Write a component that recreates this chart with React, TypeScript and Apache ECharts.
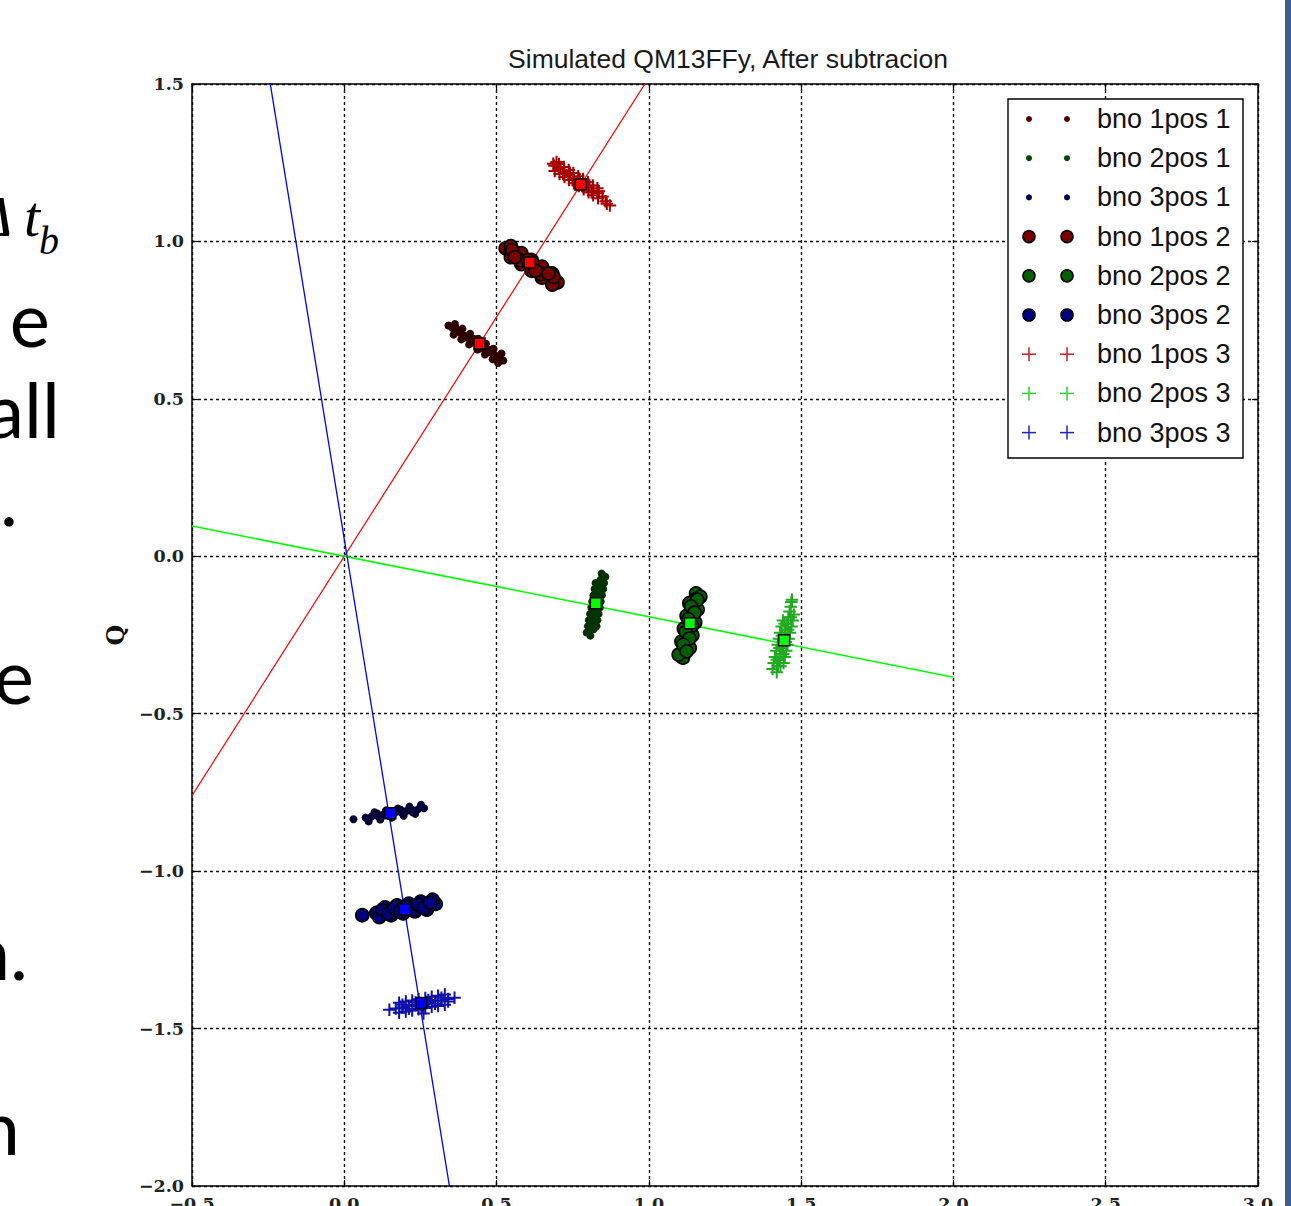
import React, { useEffect, useRef } from "react";
import * as echarts from "echarts";

// ---- axes ----
const TITLE = "Simulated QM13FFy, After subtracion";
const Y_NAME = "Q";
const X_MIN = -0.5;
const X_MAX = 3.0;
const Y_MIN = -2.0;
const Y_MAX = 1.5;
const STEP = 0.5;

// ---- legend labels ----
const legendNames = [
  "bno 1pos 1",
  "bno 2pos 1",
  "bno 3pos 1",
  "bno 1pos 2",
  "bno 2pos 2",
  "bno 3pos 2",
  "bno 1pos 3",
  "bno 2pos 3",
  "bno 3pos 3",
];

// ---- cluster points (x, Q) ----
const bno1pos1 = [
  [0.342, 0.733], [0.355, 0.725], [0.367, 0.717], [0.38, 0.71], [0.392, 0.702],
  [0.405, 0.694], [0.418, 0.686], [0.432, 0.678], [0.445, 0.67], [0.457, 0.662],
  [0.47, 0.654], [0.482, 0.646], [0.495, 0.639], [0.508, 0.631], [0.522, 0.622],
  [0.363, 0.738], [0.388, 0.723], [0.413, 0.707], [0.44, 0.691], [0.465, 0.675],
  [0.49, 0.659], [0.516, 0.644],
  [0.359, 0.704], [0.384, 0.689], [0.41, 0.673], [0.437, 0.657], [0.462, 0.641],
  [0.487, 0.626], [0.505, 0.614],
  [0.364, 0.729], [0.392, 0.693], [0.427, 0.69], [0.446, 0.66], [0.481, 0.656],
  [0.5, 0.627],
];
const bno2pos1 = [
  [0.845, -0.055], [0.841, -0.075], [0.838, -0.094], [0.834, -0.114], [0.83, -0.134],
  [0.827, -0.154], [0.823, -0.173], [0.819, -0.193], [0.815, -0.213], [0.812, -0.232],
  [0.808, -0.252],
  [0.857, -0.065], [0.853, -0.085], [0.85, -0.104], [0.846, -0.124], [0.842, -0.144],
  [0.839, -0.163], [0.835, -0.183], [0.831, -0.203], [0.828, -0.222],
  [0.825, -0.085], [0.822, -0.104], [0.818, -0.124], [0.814, -0.144], [0.811, -0.163],
  [0.807, -0.183], [0.803, -0.203], [0.8, -0.222], [0.796, -0.242],
  [0.848, -0.075], [0.827, -0.114], [0.834, -0.154], [0.812, -0.193], [0.819, -0.232],
];
const bno3pos1 = [
  [0.03, -0.835],
  [0.07, -0.83], [0.089, -0.827], [0.108, -0.824], [0.128, -0.821], [0.147, -0.818],
  [0.166, -0.815], [0.185, -0.812], [0.204, -0.809], [0.224, -0.806], [0.243, -0.803],
  [0.262, -0.8],
  [0.099, -0.813], [0.137, -0.807], [0.176, -0.801], [0.214, -0.795], [0.252, -0.789],
  [0.08, -0.842], [0.118, -0.836], [0.156, -0.83], [0.195, -0.824], [0.233, -0.818],
  [0.108, -0.817], [0.147, -0.825], [0.185, -0.805], [0.224, -0.813],
];
const bno1pos2 = [
  [0.53, 0.978], [0.547, 0.967], [0.564, 0.956], [0.581, 0.946], [0.598, 0.935],
  [0.615, 0.924], [0.632, 0.913], [0.649, 0.902], [0.666, 0.892], [0.683, 0.881],
  [0.7, 0.87],
  [0.547, 0.985], [0.581, 0.963], [0.615, 0.941], [0.649, 0.92], [0.683, 0.898],
  [0.547, 0.95], [0.581, 0.928], [0.615, 0.907], [0.649, 0.885], [0.683, 0.863],
  [0.551, 0.973], [0.577, 0.94], [0.619, 0.93], [0.645, 0.896], [0.687, 0.887],
  [0.56, 0.95], [0.602, 0.941], [0.628, 0.907], [0.67, 0.898],
];
const bno2pos2 = [
  [1.155, -0.118], [1.151, -0.138], [1.146, -0.159], [1.142, -0.179], [1.138, -0.2],
  [1.134, -0.22], [1.129, -0.24], [1.125, -0.261], [1.121, -0.281], [1.116, -0.302],
  [1.112, -0.322],
  [1.169, -0.128], [1.16, -0.169], [1.152, -0.21], [1.143, -0.251], [1.134, -0.291],
  [1.133, -0.149], [1.124, -0.189], [1.115, -0.23], [1.107, -0.271], [1.098, -0.312],
  [1.159, -0.138], [1.138, -0.159], [1.15, -0.179], [1.13, -0.2], [1.142, -0.22],
  [1.121, -0.24], [1.133, -0.261], [1.113, -0.281], [1.124, -0.302],
];
const bno3pos2 = [
  [0.059, -1.14],
  [0.105, -1.133], [0.125, -1.13], [0.144, -1.127], [0.164, -1.124], [0.183, -1.121],
  [0.203, -1.119], [0.222, -1.116], [0.242, -1.113], [0.261, -1.11], [0.281, -1.107],
  [0.3, -1.104],
  [0.134, -1.115], [0.173, -1.109], [0.212, -1.103], [0.251, -1.097], [0.29, -1.091],
  [0.115, -1.146], [0.154, -1.14], [0.193, -1.134], [0.232, -1.128], [0.271, -1.122],
  [0.125, -1.123], [0.144, -1.134], [0.164, -1.117], [0.183, -1.128], [0.203, -1.112],
  [0.222, -1.123], [0.242, -1.106], [0.261, -1.117], [0.281, -1.1],
];
const bno1pos3 = [
  [0.69, 1.24], [0.706, 1.23], [0.722, 1.221], [0.737, 1.211], [0.753, 1.201],
  [0.769, 1.192], [0.785, 1.182], [0.801, 1.172], [0.816, 1.162], [0.832, 1.153],
  [0.848, 1.143],
  [0.705, 1.246], [0.721, 1.236], [0.737, 1.227], [0.752, 1.217], [0.768, 1.207],
  [0.784, 1.198], [0.8, 1.188], [0.816, 1.178], [0.831, 1.169],
  [0.691, 1.224], [0.707, 1.214], [0.723, 1.205], [0.738, 1.195], [0.754, 1.185],
  [0.77, 1.176], [0.786, 1.166], [0.802, 1.156], [0.817, 1.147], [0.833, 1.137],
  [0.71, 1.236], [0.718, 1.215], [0.741, 1.217], [0.749, 1.195], [0.773, 1.198],
  [0.781, 1.176], [0.805, 1.178], [0.812, 1.156], [0.836, 1.159],
  [0.686, 1.247], [0.697, 1.252],
  [0.858, 1.128], [0.872, 1.114], [0.862, 1.12],
];
const bno2pos3 = [
  [1.468, -0.145], [1.466, -0.16], [1.47, -0.138],
  [1.462, -0.175], [1.458, -0.194], [1.454, -0.214], [1.449, -0.233], [1.445, -0.252],
  [1.441, -0.272], [1.437, -0.291], [1.433, -0.31], [1.428, -0.329], [1.424, -0.349],
  [1.42, -0.368],
  [1.476, -0.185], [1.472, -0.204], [1.468, -0.223], [1.463, -0.243], [1.459, -0.262],
  [1.455, -0.281], [1.451, -0.3], [1.446, -0.32], [1.442, -0.339],
  [1.44, -0.204], [1.436, -0.223], [1.431, -0.243], [1.427, -0.262], [1.423, -0.281],
  [1.419, -0.3], [1.414, -0.32], [1.41, -0.339], [1.406, -0.358],
  [1.466, -0.194], [1.446, -0.214], [1.457, -0.233], [1.437, -0.252], [1.449, -0.272],
  [1.429, -0.291], [1.441, -0.31], [1.42, -0.329], [1.432, -0.349],
];
const bno3pos3 = [
  [0.148, -1.44], [0.169, -1.436], [0.191, -1.432], [0.212, -1.429], [0.234, -1.425],
  [0.255, -1.421], [0.276, -1.417], [0.298, -1.413], [0.319, -1.41], [0.341, -1.406],
  [0.362, -1.402],
  [0.18, -1.418], [0.202, -1.414], [0.223, -1.411], [0.244, -1.407], [0.266, -1.403],
  [0.287, -1.399], [0.308, -1.396], [0.33, -1.392],
  [0.18, -1.45], [0.202, -1.446], [0.223, -1.443], [0.244, -1.439], [0.266, -1.435],
  [0.287, -1.431], [0.308, -1.428], [0.33, -1.424], [0.26, -1.452],
  [0.191, -1.424], [0.212, -1.437], [0.234, -1.417], [0.255, -1.429], [0.276, -1.409],
  [0.298, -1.421], [0.319, -1.402], [0.341, -1.414],
];

// ---- cluster means (squares) ----
const meanRed = [[0.444, 0.676], [0.609, 0.933], [0.776, 1.181]];
const meanGreen = [[0.826, -0.149], [1.135, -0.213], [1.444, -0.267]];
const meanBlue = [[0.151, -0.816], [0.197, -1.121], [0.253, -1.419]];

// ---- fitted lines (end points) ----
const lineRed = [[-0.5, -0.76], [2.0, 3.04]];
const lineGreen = [[-0.5, 0.096], [2.0, -0.384]];
const lineBlue = [[-0.5, 3.03], [2.0, -11.85]];

// ---- styling ----
const C = {
  p1: ["#2e0000", "#003300", "#000035"],
  p2: ["#7a0000", "#006000", "#000080"],
  p3: ["#a80000", "#22aa22", "#1010aa"],
  legP3: ["#cc2222", "#33cc33", "#2222cc"],
  legP1: ["#4d0000", "#004800", "#00004d"],
};
const PLUS = "path://M0 5 L10 5 M5 0 L5 10";

const fmt = (v: number) => (v < 0 ? "\u2212" + Math.abs(v).toFixed(1) : v.toFixed(1));

const CHART_H = 1232;
const LZ = 100;

function buildLegend() {
  const els: any[] = [];
  const x0 = 1008, y0 = 99, w = 235, h = 359;
  els.push({
    type: "rect",
    z: LZ,
    shape: { x: x0, y: y0, width: w, height: h },
    style: { fill: "#fff", stroke: "#000", lineWidth: 1.4 },
  });
  legendNames.forEach((name, i) => {
    const cy = 119 + i * 39.2;
    const group = Math.floor(i / 3);
    const k = i % 3;
    [1029, 1067].forEach((cx) => {
      if (group === 0) {
        els.push({ type: "circle", z: LZ + 1, shape: { cx, cy, r: 3 }, style: { fill: C.legP1[k] } });
      } else if (group === 1) {
        els.push({
          type: "circle",
          z: LZ + 1,
          shape: { cx, cy, r: 6 },
          style: { fill: C.p2[k], stroke: "#000", lineWidth: 1.6 },
        });
      } else {
        els.push({
          type: "line",
          z: LZ + 1,
          shape: { x1: cx - 7, y1: cy, x2: cx + 7, y2: cy },
          style: { stroke: C.legP3[k], lineWidth: 1.5 },
        });
        els.push({
          type: "line",
          z: LZ + 1,
          shape: { x1: cx, y1: cy - 7, x2: cx, y2: cy + 7 },
          style: { stroke: C.legP3[k], lineWidth: 1.5 },
        });
      }
    });
    els.push({
      type: "text",
      z: LZ + 1,
      x: 1097,
      y: cy,
      style: {
        text: name,
        font: '27px "Liberation Sans", Arial, sans-serif',
        fill: "#111",
        align: "left",
        textAlign: "left",
        verticalAlign: "middle",
        textVerticalAlign: "middle",
      },
    });
  });
  return els;
}

function slideText(text: string, x: number, y: number, font: string) {
  return {
    type: "text",
    x,
    y,
    z: 50,
    style: {
      text,
      font,
      fill: "#000",
      align: "right",
      textAlign: "right",
      verticalAlign: "middle",
      textVerticalAlign: "middle",
    },
  };
}

export default function App() {
  const ref = useRef<HTMLDivElement>(null);
  useEffect(() => {
    if (!ref.current) return;
    const chart = echarts.init(ref.current, undefined, { renderer: "svg" });
    const axisLine = { show: true, onZero: false, lineStyle: { color: "#000", width: 1.5 } };
    const axisTick = { show: true, inside: true, length: 6, lineStyle: { color: "#000", width: 1.2 } };
    const labelStyle = { fontFamily: '"DejaVu Serif", serif', fontSize: 17.5, fontWeight: "bold", color: "#222" };
    const split = { show: true, lineStyle: { color: "#111", width: 1.4, type: [3, 3] } };

    const sLine = (data: number[][], color: string, width: number) => ({
      type: "line",
      data,
      symbol: "none",
      clip: true,
      silent: true,
      z: 2,
      lineStyle: { color, width },
    });
    const sDots = (name: string, data: number[][], color: string) => ({
      type: "scatter",
      name,
      data,
      symbol: "circle",
      symbolSize: 8,
      silent: true,
      z: 3,
      itemStyle: { color, opacity: 1 },
    });
    const sCircles = (name: string, data: number[][], color: string) => ({
      type: "scatter",
      name,
      data,
      symbol: "circle",
      symbolSize: 13,
      silent: true,
      z: 3,
      itemStyle: { color, borderColor: "#000", borderWidth: 1.7, opacity: 1 },
    });
    const sPlus = (name: string, data: number[][], color: string) => ({
      type: "scatter",
      name,
      data,
      symbol: PLUS,
      symbolSize: 12.5,
      silent: true,
      z: 3,
      itemStyle: { color, borderColor: color, borderWidth: 2, opacity: 1 },
    });
    const sMean = (data: number[][], color: string) => ({
      type: "scatter",
      data,
      symbol: "rect",
      symbolSize: 11,
      silent: true,
      z: 4,
      itemStyle: { color, borderColor: "#000", borderWidth: 1.5, opacity: 1 },
    });

    const serif = '"Liberation Serif", "DejaVu Serif", serif';
    const slideFont = '76px Lato, "Open Sans", sans-serif';

    chart.setOption({
      animation: false,
      backgroundColor: "#fff",
      title: {
        text: TITLE,
        left: 723,
        top: 40,
        textAlign: "center",
        textStyle: {
          fontFamily: '"Liberation Sans", Arial, sans-serif',
          fontSize: 26.5,
          fontWeight: "normal",
          color: "#1a1a1a",
        },
      },
      grid: { left: 192, top: 84, right: 33, bottom: CHART_H - 1186, containLabel: false },
      xAxis: [
        {
          type: "value",
          min: X_MIN,
          max: X_MAX,
          interval: STEP,
          position: "bottom",
          axisLine,
          axisTick,
          axisLabel: { ...labelStyle, margin: 9, formatter: fmt },
          splitLine: split,
        },
        {
          type: "value",
          min: X_MIN,
          max: X_MAX,
          interval: STEP,
          position: "top",
          axisLine,
          axisTick,
          axisLabel: { show: false },
          splitLine: { show: false },
        },
      ],
      yAxis: [
        {
          type: "value",
          min: Y_MIN,
          max: Y_MAX,
          interval: STEP,
          position: "left",
          axisLine,
          axisTick,
          axisLabel: { ...labelStyle, margin: 8, formatter: fmt },
          splitLine: split,
          name: Y_NAME,
          nameLocation: "middle",
          nameRotate: 90,
          nameGap: 62,
          nameTextStyle: { fontFamily: '"DejaVu Serif", serif', fontSize: 24, fontWeight: "bold", color: "#111" },
        },
        {
          type: "value",
          min: Y_MIN,
          max: Y_MAX,
          interval: STEP,
          position: "right",
          axisLine,
          axisTick,
          axisLabel: { show: false },
          splitLine: { show: false },
        },
      ],
      graphic: [
        ...buildLegend(),
        { type: "rect", z: 60, shape: { x: 1285, y: 0, width: 6, height: 1206 }, style: { fill: "#3c5f8e" } },
        slideText("Δ", 12, 216, "italic 58px " + serif),
        slideText("t", 40, 216, "italic 58px " + serif),
        slideText("b", 59, 240, "italic 40px " + serif),
        slideText("e", 50, 317, slideFont),
        slideText("all", 60, 408, slideFont),
        slideText(".", 18, 496, slideFont),
        slideText("e", 34, 674, slideFont),
        slideText("n.", 28, 950, slideFont),
        slideText("n", 20, 1125, slideFont),
      ],
      series: [
        sLine(lineRed, "#ff0000", 1.2),
        sLine(lineGreen, "#00ff00", 1.6),
        sLine(lineBlue, "#0000ff", 1.3),
        sDots(legendNames[0], bno1pos1, C.p1[0]),
        sDots(legendNames[1], bno2pos1, C.p1[1]),
        sDots(legendNames[2], bno3pos1, C.p1[2]),
        sCircles(legendNames[3], bno1pos2, C.p2[0]),
        sCircles(legendNames[4], bno2pos2, C.p2[1]),
        sCircles(legendNames[5], bno3pos2, C.p2[2]),
        sPlus(legendNames[6], bno1pos3, C.p3[0]),
        sPlus(legendNames[7], bno2pos3, C.p3[1]),
        sPlus(legendNames[8], bno3pos3, C.p3[2]),
        sMean(meanRed, "#ff0000"),
        sMean(meanGreen, "#00ff00"),
        sMean(meanBlue, "#0000ff"),
      ],
    });
    return () => chart.dispose();
  }, []);

  return (
    <div
      style={{
        position: "absolute",
        left: 0,
        top: 0,
        width: 1291,
        height: 1206,
        overflow: "hidden",
        background: "#fff",
      }}
    >
      <div ref={ref} style={{ width: 1291, height: CHART_H }} />
    </div>
  );
}
